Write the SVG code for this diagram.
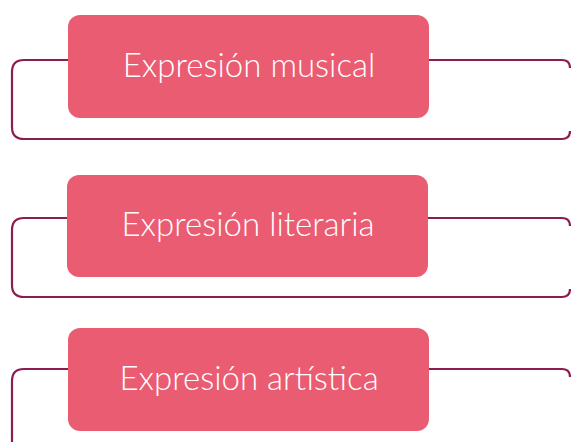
<svg xmlns="http://www.w3.org/2000/svg" width="571" height="442" viewBox="0 0 571 442">
<style>
.frame{fill:none;stroke:#8c1d4f;stroke-width:2.2}
.box{fill:#ea5c72}
.lbl{fill:#fff;font-family:Lato,"Open Sans",sans-serif;font-weight:300;font-size:33px;text-anchor:middle}
</style>
<rect width="571" height="442" fill="#fff"/>
<g id="connectors">
<path class="frame" d="M70 60 H24 Q12 60 12 72 V127 Q12 139 24 139 H562 Q570 139 570 131"/>
<path class="frame" d="M428 60 H562 Q570 60 570 68"/>
<path class="frame" d="M70 218 H24 Q12 218 12 230 V285 Q12 297 24 297 H562 Q570 297 570 289"/>
<path class="frame" d="M428 218 H562 Q570 218 570 226"/>
<path class="frame" d="M70 369 H24 Q12 369 12 381 V450"/>
<path class="frame" d="M428 369 H562 Q570 369 570 377"/>
</g>
<g id="node1"><rect class="box" x="68" y="15" width="361" height="103" rx="12"/><text class="lbl" x="249" y="77">Expresión musical</text></g>
<g id="node2"><rect class="box" x="67" y="175" width="361" height="102" rx="12"/><text class="lbl" x="248" y="236">Expresión literaria</text></g>
<g id="node3"><rect class="box" x="68" y="328" width="361" height="103" rx="12"/><text class="lbl" x="249" y="390">Expresión artística</text></g>
</svg>
